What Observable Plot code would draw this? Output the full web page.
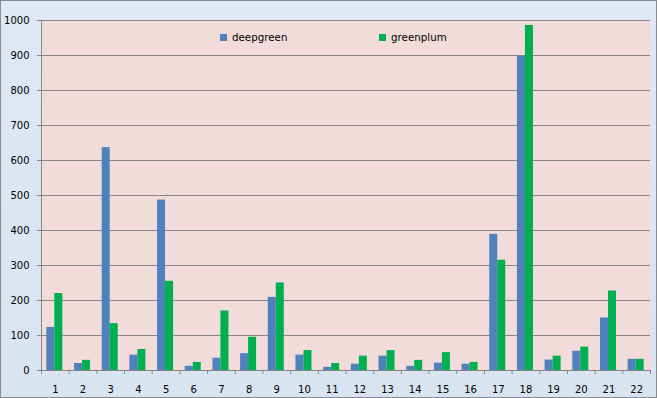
<!DOCTYPE html>
<html>
<head>
<meta charset="utf-8">
<script src="https://cdn.jsdelivr.net/npm/d3@7"></script>
<script src="https://cdn.jsdelivr.net/npm/@observablehq/plot@0.6"></script>
<style>
  html, body { margin: 0; padding: 0; }
  #wrap {
    position: relative; width: 657px; height: 398px; overflow: hidden;
    background: linear-gradient(#dfe8f4, #d9e4f1);
    box-shadow: inset 0 0 0 1px #8a8a8a;
    font-family: "DejaVu Sans", sans-serif; font-size: 10px;
  }
  #wrap svg { position: absolute; left: 0; top: 0; background: transparent; }
  .leg { position: absolute; top: 31px; display: flex; align-items: center; font-size: 10.3px; color: #000; }
  .leg i { display: inline-block; width: 7px; height: 7px; margin-right: 5px; }
</style>
</head>
<body>
<div id="wrap"></div>
<script>
const categories = ["1","2","3","4","5","6","7","8","9","10","11","12","13","14","15","16","17","18","19","20","21","22"];
const deepgreen = [123, 20, 637, 44, 487, 12, 35, 48, 209, 44, 9, 18, 41, 12, 21, 18, 389, 898, 30, 55, 150, 32];
const greenplum = [220, 29, 134, 60, 255, 23, 170, 95, 250, 57, 20, 41, 57, 29, 51, 23, 315, 986, 41, 67, 227, 32];
const seriesNames = ["deepgreen", "greenplum"];
const seriesColors = ["#4f81bd", "#00b050"];
const yTicks = [0, 100, 200, 300, 400, 500, 600, 700, 800, 900, 1000];

const rows = categories.map((c, i) => ({label: c, n: i + 1, deepgreen: deepgreen[i], greenplum: greenplum[i]}));
const slotTicks = d3.range(0, categories.length + 1).map(k => k + 0.5);
const labelTicks = rows.map(r => r.n);

const W = 657, H = 398, mL = 41, mR = 7;
const slot = (W - mL - mR) / categories.length;
const barW = 8;
const pad = (slot - 2 * barW) / 2 - 0.5;

const gray = "#868686";

const chart = Plot.plot({
  width: W, height: H,
  marginLeft: mL, marginRight: mR, marginTop: 20, marginBottom: 28,
  style: {fontFamily: "DejaVu Sans, sans-serif", fontSize: "10px", color: "#000", background: "transparent"},
  x: {domain: [0.5, categories.length + 0.5], axis: null},
  y: {domain: [0, 1000], axis: null},
  marks: [
    Plot.frame({fill: "#f2dcdb", stroke: null}),
    Plot.gridY(yTicks.filter(t => t > 0), {stroke: gray, strokeOpacity: 1, strokeWidth: 1}),
    Plot.rectY(rows, {x1: d => d.n - 0.5, x2: d => d.n + 0.5, y: "deepgreen", fill: seriesColors[0], insetLeft: pad, insetRight: slot - pad - barW}),
    Plot.rectY(rows, {x1: d => d.n - 0.5, x2: d => d.n + 0.5, y: "greenplum", fill: seriesColors[1], insetLeft: pad + barW, insetRight: slot - pad - 2 * barW}),
    Plot.ruleY([0], {stroke: gray, strokeWidth: 1}),
    Plot.ruleX([0.5], {stroke: gray, strokeWidth: 1}),
    Plot.axisY({ticks: yTicks, tickSize: 4, tickPadding: 8, stroke: gray, fill: "#000", strokeOpacity: 1, label: null, tickFormat: d => String(d)}),
    Plot.axisX({ticks: slotTicks, tickSize: 4, stroke: gray, strokeOpacity: 1, tickFormat: () => "", label: null}),
    Plot.axisX({ticks: labelTicks, tickSize: 0, tickPadding: 15, fill: "#000", tickFormat: n => categories[n - 1], label: null})
  ]
});

const wrap = document.getElementById("wrap");
wrap.appendChild(chart);

const legendX = [220, 379];
seriesNames.forEach((name, i) => {
  const el = document.createElement("div");
  el.className = "leg";
  el.style.left = legendX[i] + "px";
  el.innerHTML = `<i style="background:${seriesColors[i]}"></i><span>${name}</span>`;
  wrap.appendChild(el);
});
</script>
</body>
</html>
